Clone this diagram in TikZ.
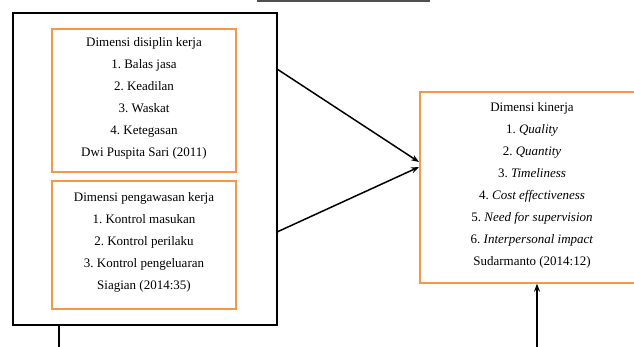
\documentclass[tikz,border=0pt]{standalone}
\usepackage{fontspec}
\setmainfont{Liberation Serif}
\frenchspacing
\usetikzlibrary{arrows.meta}
\definecolor{boxorange}{RGB}{247,150,70}
\definecolor{bargray}{RGB}{80,80,80}
\tikzset{
  x=1pt,y=-1pt,
  outerbox/.style={draw=black,line width=1.6pt,inner sep=0pt},
  obox/.style={draw=boxorange,line width=1.4pt,inner sep=0pt},
  txt/.style={align=center,font=\fontsize{13}{22}\selectfont\frenchspacing,inner sep=0pt},
  conn/.style={line width=1.5pt,-{Stealth[length=8pt,width=6pt]}},
  plain/.style={line width=1.5pt}
}
\begin{document}
\begin{tikzpicture}
\useasboundingbox (0,0) rectangle (634,347);
\clip (0,0) rectangle (634,347);
\fill[bargray] (257,0) rectangle (430,2);
\node[outerbox,minimum width=264pt,minimum height=312pt] (outer) at (145,169) {};
\node[obox,minimum width=184pt,minimum height=143pt] (b1) at (144,100.5) {};
\node[txt] (t1) at (144,98) {Dimensi disiplin kerja\\1. Balas jasa\\2. Keadilan\\3. Waskat\\4. Ketegasan\\Dwi Puspita Sari (2011)};
\node[obox,minimum width=184pt,minimum height=128pt] (b2) at (144,245) {};
\node[txt] (t2) at (144,242.5) {Dimensi pengawasan kerja\\1. Kontrol masukan\\2. Kontrol perilaku\\3. Kontrol pengeluaran\\Siagian (2014:35)};
\node[obox,minimum width=230pt,minimum height=191pt] (b3) at (535,187.5) {};
\node[txt] (t3) at (532,185) {Dimensi kinerja\\1. \textit{Quality}\\2. \textit{Quantity}\\3. \textit{Timeliness}\\4. \textit{Cost effectiveness}\\5. \textit{Need for supervision}\\6. \textit{Interpersonal impact}\\Sudarmanto (2014:12)};
\coordinate (a1s) at (277,69);
\coordinate (a1e) at (419,162);
\coordinate (a2s) at (277,232);
\coordinate (a2e) at (419,167);
\coordinate (low) at (59,350);
\coordinate (low2) at (537,350);
\draw[conn] (a1s) -- (a1e);
\draw[conn] (a2s) -- (a2e);
\draw[plain] (outer.south -| low) -- (low);
\draw[conn] (low2) -- (b3.south -| low2);
\end{tikzpicture}
\end{document}
